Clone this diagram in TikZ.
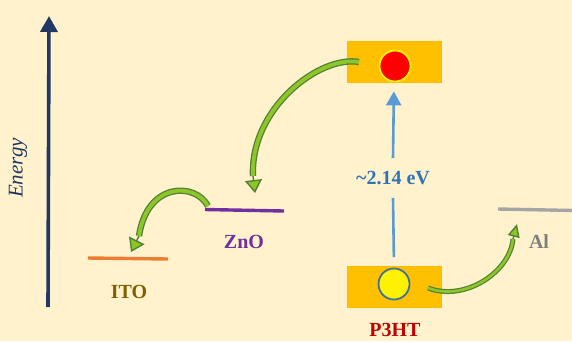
\documentclass[tikz,border=0pt]{standalone}
\usepackage{fontspec}
\setmainfont{Liberation Serif}
\usetikzlibrary{arrows.meta}
\definecolor{bg}{HTML}{FFF2CC}
\definecolor{navy}{HTML}{1F3864}
\definecolor{itoc}{HTML}{ED7D31}
\definecolor{itot}{HTML}{7F6000}
\definecolor{znoc}{HTML}{7030A0}
\definecolor{gold}{HTML}{FFC000}
\definecolor{bline}{HTML}{5B9BD5}
\definecolor{btext}{HTML}{2E75B6}
\definecolor{p3t}{HTML}{C00000}
\definecolor{alc}{HTML}{A5A5A5}
\definecolor{alt}{HTML}{7F7F7F}
\definecolor{cborder}{HTML}{41719C}
\definecolor{gdark}{HTML}{538135}
\definecolor{glight}{HTML}{8CC628}
\begin{document}
\begin{tikzpicture}[x=1pt,y=-1pt,
  lbl/.style={font=\fontsize{20}{24}\selectfont\bfseries, inner sep=0pt},
  level/.style={line width=3.4pt},
  band/.style={fill=gold, draw=gold!90!orange, line width=0.8pt, minimum width=94pt, minimum height=41pt, inner sep=0pt},
  dot/.style={circle, minimum size=31pt, inner sep=0pt, line width=1.8pt},
  gbody/.style={draw=gdark, double=glight, double distance=3.8pt, line width=1.3pt},
  gbodythin/.style={draw=gdark, double=glight, double distance=2.6pt, line width=1.2pt},
  ghead/.style={draw=gdark, line width=1.4pt, -{Triangle[fill=glight, width=#1, length=13pt]}},
  ghead/.default=15pt,
  bluearrow/.style={draw=bline, line width=2.6pt}
]
\clip (0,0) rectangle (572,341);
\fill[bg] (0,0) rectangle (572,341);

% energy axis
\coordinate (ebot) at (48,307);
\coordinate (etop) at (49,16);
\draw[navy, line width=3.6pt, -{Triangle[width=17pt,length=16pt]}] (ebot) -- (etop);
\node[rotate=90, font=\fontsize{21}{25}\selectfont\itshape, text=navy] (energy) at (18,168) {Energy};

% ITO
\coordinate (itoL) at (88,258);
\coordinate (itoR) at (168,259);
\draw[level, itoc] (itoL) -- (itoR);
\node[lbl, text=itot] (itolbl) at (129,292) {ITO};

% ZnO
\coordinate (znoL) at (205,209.5);
\coordinate (znoR) at (284,211);
\draw[level, znoc] (znoL) -- (znoR);
\node[lbl, text=znoc] (znolbl) at (244,242) {ZnO};

% Al
\coordinate (alL) at (498,209);
\coordinate (alR) at (573,210.5);
\draw[level, alc] (alL) -- (alR);
\node[lbl, text=alt] (allbl) at (539,242) {Al};

% P3HT bands
\node[band] (lumo) at (394,61.5) {};
\node[band] (homo) at (394,287) {};
\node[dot, fill=red, draw=yellow] (hole1) at (395,66) {};
\node[dot, fill=yellow, draw=cborder] (dot2) at (394,284) {};
\node[lbl, text=p3t] (p3lbl) at (395,330) {P3HT};

% gap arrow
\node[lbl, text=btext, inner ysep=13pt] (gap) at (393,178) {\textasciitilde 2.14 eV};
\draw[bluearrow, shorten <=9pt] (homo.north) -- (gap.south);
\draw[bluearrow, shorten >=9pt, -{Triangle[width=15pt,length=14pt]}] (gap.north) -- (lumo.south);

% green arrows
\coordinate (t1) at (359,62);
\coordinate (b1) at (253,176);
\coordinate (p1) at (255,193);
\draw[gbody] (t1) .. controls (320,55) and (250,108) .. (b1);
\draw[ghead=17pt] (b1) -- (p1);

\coordinate (t2) at (208,206);
\coordinate (b2) at (139,236);
\coordinate (p2) at (131,252);
\draw[gbody] (t2) .. controls (195,182) and (147,182) .. (b2);
\draw[ghead=17pt] (b2) -- (p2);

\coordinate (t3) at (428,288);
\coordinate (b3) at (513,239);
\coordinate (p3) at (517,224);
\draw[gbodythin] (t3) .. controls (465,302) and (510,272) .. (b3);
\draw[ghead=12pt] (b3) -- (p3);
\end{tikzpicture}
\end{document}
